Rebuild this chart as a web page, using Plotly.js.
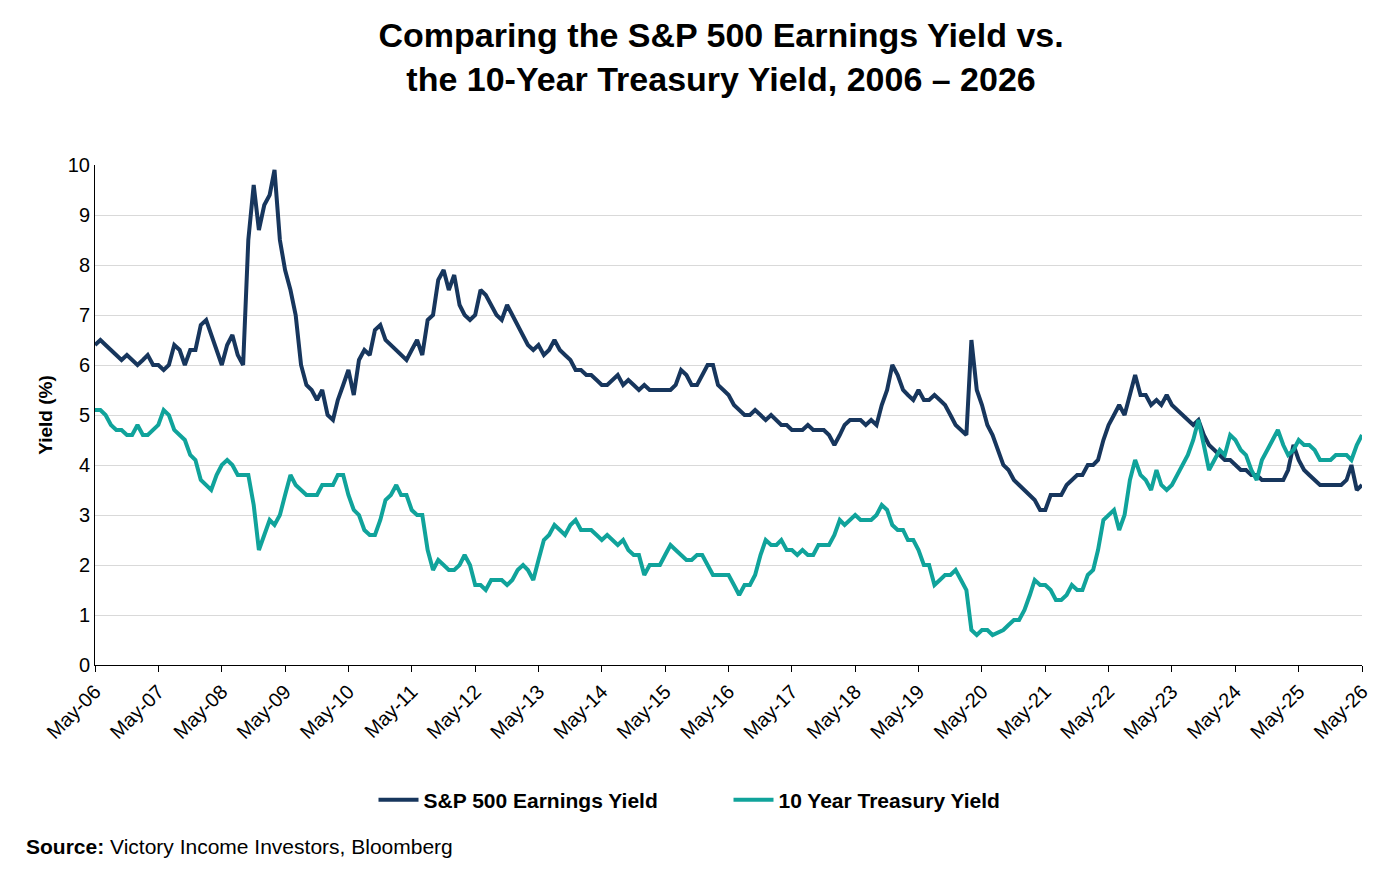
<!DOCTYPE html>
<html>
<head>
<meta charset="utf-8">
<script src="https://cdn.plot.ly/plotly-3.0.1.min.js"></script>
<style>body{margin:0;background:#fff}#plot{width:1392px;height:870px}</style>
</head>
<body>
<div id="plot"></div>
<script>
// monthly readings, May-2006 .. May-2026
const startYear = 2006, startMonth = 5;

const spEarningsYield = [
  6.4,6.5,6.4,6.3,6.2,6.1,6.2,6.1,
  6.0,6.1,6.2,6.0,6.0,5.9,6.0,6.4,6.3,6.0,6.3,6.3,
  6.8,6.9,6.6,6.3,6.0,6.4,6.6,6.2,6.0,8.5,9.6,8.7,
  9.2,9.4,9.9,8.5,7.9,7.5,7.0,6.0,5.6,5.5,5.3,5.5,
  5.0,4.9,5.3,5.6,5.9,5.4,6.1,6.3,6.2,6.7,6.8,6.5,
  6.4,6.3,6.2,6.1,6.3,6.5,6.2,6.9,7.0,7.7,7.9,7.5,
  7.8,7.2,7.0,6.9,7.0,7.5,7.4,7.2,7.0,6.9,7.2,7.0,
  6.8,6.6,6.4,6.3,6.4,6.2,6.3,6.5,6.3,6.2,6.1,5.9,
  5.9,5.8,5.8,5.7,5.6,5.6,5.7,5.8,5.6,5.7,5.6,5.5,
  5.6,5.5,5.5,5.5,5.5,5.5,5.6,5.9,5.8,5.6,5.6,5.8,
  6.0,6.0,5.6,5.5,5.4,5.2,5.1,5.0,5.0,5.1,5.0,4.9,
  5.0,4.9,4.8,4.8,4.7,4.7,4.7,4.8,4.7,4.7,4.7,4.6,
  4.4,4.6,4.8,4.9,4.9,4.9,4.8,4.9,4.8,5.2,5.5,6.0,
  5.8,5.5,5.4,5.3,5.5,5.3,5.3,5.4,5.3,5.2,5.0,4.8,
  4.7,4.6,6.5,5.5,5.2,4.8,4.6,4.3,4.0,3.9,3.7,3.6,
  3.5,3.4,3.3,3.1,3.1,3.4,3.4,3.4,3.6,3.7,3.8,3.8,
  4.0,4.0,4.1,4.5,4.8,5.0,5.2,5.0,5.4,5.8,5.4,5.4,
  5.2,5.3,5.2,5.4,5.2,5.1,5.0,4.9,4.8,4.9,4.6,4.4,
  4.3,4.2,4.1,4.1,4.0,3.9,3.9,3.8,3.8,3.7,3.7,3.7,
  3.7,3.7,3.9,4.4,4.1,3.9,3.8,3.7,3.6,3.6,3.6,3.6,
  3.6,3.7,4.0,3.5,3.6
];

const treasuryYield = [
  5.1,5.1,5.0,4.8,4.7,4.7,4.6,4.6,
  4.8,4.6,4.6,4.7,4.8,5.1,5.0,4.7,4.6,4.5,4.2,4.1,
  3.7,3.6,3.5,3.8,4.0,4.1,4.0,3.8,3.8,3.8,3.2,2.3,
  2.6,2.9,2.8,3.0,3.4,3.8,3.6,3.5,3.4,3.4,3.4,3.6,
  3.6,3.6,3.8,3.8,3.4,3.1,3.0,2.7,2.6,2.6,2.9,3.3,
  3.4,3.6,3.4,3.4,3.1,3.0,3.0,2.3,1.9,2.1,2.0,1.9,
  1.9,2.0,2.2,2.0,1.6,1.6,1.5,1.7,1.7,1.7,1.6,1.7,
  1.9,2.0,1.9,1.7,2.1,2.5,2.6,2.8,2.7,2.6,2.8,2.9,
  2.7,2.7,2.7,2.6,2.5,2.6,2.5,2.4,2.5,2.3,2.2,2.2,
  1.8,2.0,2.0,2.0,2.2,2.4,2.3,2.2,2.1,2.1,2.2,2.2,
  2.0,1.8,1.8,1.8,1.8,1.6,1.4,1.6,1.6,1.8,2.2,2.5,
  2.4,2.4,2.5,2.3,2.3,2.2,2.3,2.2,2.2,2.4,2.4,2.4,
  2.6,2.9,2.8,2.9,3.0,2.9,2.9,2.9,3.0,3.2,3.1,2.8,
  2.7,2.7,2.5,2.5,2.3,2.0,2.0,1.6,1.7,1.8,1.8,1.9,
  1.7,1.5,0.7,0.6,0.7,0.7,0.6,0.65,0.7,0.8,0.9,0.9,
  1.1,1.4,1.7,1.6,1.6,1.5,1.3,1.3,1.4,1.6,1.5,1.5,
  1.8,1.9,2.3,2.9,3.0,3.1,2.7,3.0,3.7,4.1,3.8,3.7,
  3.5,3.9,3.6,3.5,3.6,3.8,4.0,4.2,4.5,4.9,4.4,3.9,
  4.1,4.3,4.2,4.6,4.5,4.3,4.2,3.9,3.7,4.1,4.3,4.5,
  4.7,4.4,4.2,4.3,4.5,4.4,4.4,4.3,4.1,4.1,4.1,4.2,
  4.2,4.2,4.1,4.4,4.6
];

const dates = spEarningsYield.map((_, i) => {
  const m = startMonth - 1 + i;
  const y = startYear + Math.floor(m / 12);
  return y + "-" + String(m % 12 + 1).padStart(2, "0") + "-01";
});

const font = "Arial, Liberation Sans, sans-serif";

var data = [{
  x: dates, y: spEarningsYield, mode: "lines", type: "scatter",
  name: "<b>S&P 500 Earnings Yield</b>", line: {color: "#17365d", width: 4}
}, {
  x: dates, y: treasuryYield, mode: "lines", type: "scatter",
  name: "<b>10 Year Treasury Yield</b>", line: {color: "#10a39b", width: 4}
}];

var layout = {
  width: 1392, height: 870,
  margin: {t: 165, r: 30, b: 205, l: 95},
  font: {family: font, size: 20, color: "#000"},
  title: {text: "<b>Comparing the S&P 500 Earnings Yield vs.<br>the 10-Year Treasury Yield, 2006 – 2026</b>",
          font: {size: 34}, x: 0.518, y: 0.946, yanchor: "top"},
  xaxis: {type: "date", range: ["2006-05-01", "2026-05-01"], tick0: "2006-05-01", dtick: "M12",
          tickformat: "%b-%y", tickangle: -45, ticks: "outside", ticklen: 6, tickcolor: "#000",
          showline: true, linecolor: "#000", linewidth: 1, showgrid: false},
  yaxis: {range: [0, 10], dtick: 1, showline: true, linecolor: "#000", showgrid: true,
          gridcolor: "#d9d9d9", zeroline: false, ticks: "", ticklen: 4,
          title: {text: "<b>Yield (%)</b>", font: {size: 19}, standoff: 10}},
  showlegend: true,
  legend: {orientation: "h", x: 0.5, xanchor: "center", y: -0.27, yanchor: "middle",
           font: {size: 21}, itemwidth: 40, traceorder: "normal", entrywidth: 300},
  annotations: [{xref: "paper", yref: "paper", x: -0.056, y: -0.364, xanchor: "left", yanchor: "middle",
                 showarrow: false, text: "<b>Source:</b> Victory Income Investors, Bloomberg", font: {size: 21}}]
};

Plotly.newPlot("plot", data, layout, {displayModeBar: false});
</script>
</body>
</html>
